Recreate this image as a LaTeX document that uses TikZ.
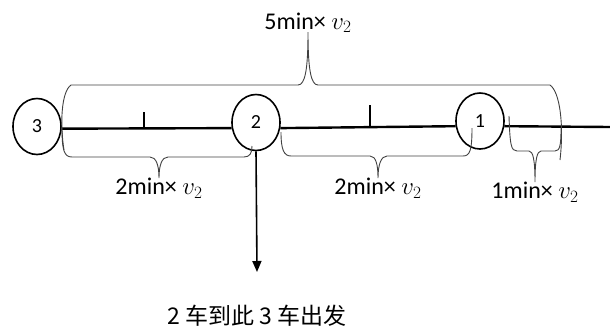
\documentclass[tikz,border=0pt]{standalone}
\usepackage{fontspec}
\setmainfont{Carlito}
\newfontfamily\cjk{Noto Sans CJK SC}
\usetikzlibrary{shapes.geometric}
\usetikzlibrary{arrows.meta}
\usetikzlibrary{positioning}
\tikzset{
    station/.style={
        draw, ellipse,
        line width=1.6pt,
        minimum width=48pt, minimum height=56pt,
        inner sep=0pt,
        font=\fontsize{20}{20}\selectfont
    },
    track/.style={line width=2.4pt},
    bracket/.style={draw=black!75, line width=0.9pt},
    distlabel/.style={
        font=\fontsize{24}{24}\selectfont,
        inner sep=1pt
    }
}

\begin{document}
\begin{tikzpicture}[x=1pt,y=-1pt]
\useasboundingbox (0,0) rectangle (610,335);
% 车站
\node[station] (c3) at (37,126.5) {3};
\node[station] (c2) at (256,122.5) {2};
\node[station] (c1) at (480,121) {1};
\coordinate (end) at (610,127);
\coordinate (arr) at (257,272);

% 轨道 + 刻度
\draw[track] (c3.-5) -- (c2.193);
\draw[track] (c2.-13) -- (c1.192);
\draw[track] (c1.-12) -- (end);
\draw[line width=1.5pt] (144,128) -- (144,112);
\draw[line width=1.5pt] (370,126) -- (370,105);

% 括号
\draw[bracket] (64,150) .. controls (60,125) and (61,92) .. (71,85) -- (298,85)
    .. controls (305,85) and (308,70) .. (308,32) coordinate (tip5)
    .. controls (308,70) and (311,85) .. (318,85) -- (550,85)
    .. controls (560,92) and (564,125) .. (560,160);
\draw[bracket] (62,128) .. controls (62,150) and (64,157) .. (72,157) -- (150,157)
    .. controls (156,157) and (159,165) .. (159,178) coordinate (tipA)
    .. controls (159,165) and (162,157) .. (168,157) -- (244,157)
    .. controls (250,157) and (252,153) .. (252,146);
\draw[bracket] (281,132) .. controls (281,150) and (284,156) .. (291,156) -- (370,156)
    .. controls (376,156) and (378,165) .. (378,178) coordinate (tipB)
    .. controls (378,165) and (381,156) .. (387,156) -- (463,156)
    .. controls (470,156) and (472,150) .. (472,128);
\draw[bracket] (509,116) .. controls (510,145) and (511,151) .. (517,151) -- (529,151)
    .. controls (533,151) and (535,160) .. (535,182) coordinate (tipC)
    .. controls (535,160) and (537,151) .. (541,151) -- (555,151)
    .. controls (560,151) and (561,145) .. (561,128);

% 标注
\node[distlabel, above=-2pt of tip5] (l5) {5min× $v_2$};
\node[distlabel, below=-1pt of tipA] (lA) {2min× $v_2$};
\node[distlabel, below=-1pt of tipB] (lB) {2min× $v_2$};
\node[distlabel, below=-1pt of tipC] (lC) {1min× $v_2$};

% 箭头
\draw[line width=1.6pt, -{Triangle[length=11pt,width=9pt]}] (c2.south) -- (arr);
\node[font=\cjk\fontsize{23}{23}\selectfont, below=30pt of arr] (note) {2 车到此 3 车出发};
\end{tikzpicture}
\end{document}
